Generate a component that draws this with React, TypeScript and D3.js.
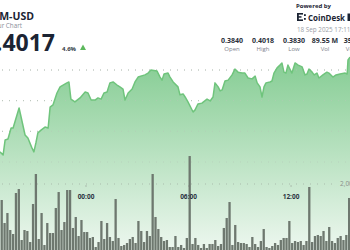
import React from "react";
import * as d3 from "d3";

// ---- data ----
const START = Date.UTC(2025, 8, 17, 18, 58);
const SPAN_MIN = 1229;
const BAR_START = Date.UTC(2025, 8, 17, 19, 0);
const BAR_STEP_MIN = 10;

const priceMinutes = [0, 11, 18, 28, 39, 46, 67, 88, 98, 112, 119, 126, 133, 144, 158, 169, 176, 186, 200, 211, 235, 242, 249, 263, 281, 299, 309, 320, 334, 344, 355, 365, 376, 386, 397,
  411, 421, 432, 439, 450, 464, 474, 485, 509, 520, 530, 551, 562, 569, 576, 590, 597, 608, 625, 632, 643, 650, 660, 678, 685, 695, 709, 727, 738, 748, 755, 766, 773, 780, 790, 801, 815,
  825, 836, 850, 860, 871, 885, 896, 903, 913, 920, 927, 934, 948, 955, 962, 973, 983, 990, 997, 1004, 1011, 1018, 1025, 1036, 1047, 1061, 1071, 1078, 1085, 1096, 1103, 1113, 1120, 1134, 1148, 1155, 1169, 1180, 1194, 1212, 1219, 1222, 1229];
const priceValues = [0.3733, 0.3723, 0.3772, 0.3775, 0.3811, 0.3811, 0.3876, 0.3788, 0.3778, 0.3746, 0.3733, 0.3762, 0.3795, 0.3804, 0.3814, 0.3811, 0.3879, 0.3886, 0.3925, 0.3945, 0.3958, 0.3961, 0.3905, 0.3896, 0.3909, 0.3928, 0.3925, 0.3902, 0.3902, 0.3909, 0.3905, 0.3925, 0.3928, 0.3958, 0.3961,
  0.3951, 0.3945, 0.3938, 0.3902, 0.3925, 0.3938, 0.3961, 0.3977, 0.3984, 0.399, 0.4, 0.3997, 0.3977, 0.3967, 0.3987, 0.399, 0.3977, 0.3961, 0.3945, 0.3919, 0.3922, 0.3912, 0.3896, 0.3863, 0.387, 0.3889, 0.3892, 0.3905, 0.3899, 0.3912, 0.3958, 0.3945, 0.3932, 0.3935, 0.3964, 0.3967, 0.3984,
  0.4003, 0.3993, 0.399, 0.399, 0.3974, 0.3971, 0.398, 0.3958, 0.3945, 0.3912, 0.3945, 0.3958, 0.3961, 0.3964, 0.399, 0.4007, 0.4016, 0.4023, 0.3993, 0.399, 0.4016, 0.4003, 0.399, 0.4023, 0.4016, 0.401, 0.3984, 0.3987, 0.4003, 0.3993, 0.3984, 0.399, 0.3974, 0.3984, 0.3993, 0.399, 0.3977, 0.3984, 0.3987, 0.399, 0.3987, 0.4033, 0.4042];

// volumes in thousands
const barVolumes = [1515, 818, 1121, 606, 485, 1727, 1848, 303, 606, 576, 242, 1394, 2303, 333, 1121, 152, 818, 515, 515, 1273, 1757, 606, 848, 1818, 1818, 667, 1000, 424, 909, 545, 545, 364, 394, 91, 242, 879, 333, 818, 394, 273, 1545, 364, 121, 152, 212, 333, 394, 212, 879, 576, 242, 576, 424, 2303, 1000, 636, 394, 273, 303, 91, 91, 424,
  91, 152, 61, 364, 2848, 182, 364, 152, 61, 182, 61, 182, 182, 303, 121, 182, 667, 970, 1454, 152, 758, 242, 212, 212, 182, 91, 394, 182, 91, 273, 636, 91, 61, 121, 212, 152, 303, 364, 364, 879, 212, 273, 242, 273, 152, 273, 1909, 242, 424, 455, 424, 576, 273, 697, 273, 212, 364, 424, 303, 455, 1576];

const priceGrid = [0.37, 0.38, 0.39, 0.4];
const volGrid = [2000];

const statValues = ["0.3840", "0.4018", "0.3830", "89.55 M", "35.21 M"];
const statLabels = ["Open", "High", "Low", "Vol", "Vol USD"];

const W = 350, H = 250;
const FONT = "'Open Sans', sans-serif";

export default function App() {
  const x = d3.scaleUtc().domain([START, START + SPAN_MIN * 60000]).range([0, W]);
  const y = d3.scaleLinear().domain([0.37, 0.4]).range([162, 70]);
  const yv = d3.scaleLinear().domain([0, 2000]).range([H, 184]);

  const pts = priceMinutes.map((m, i) => ({ t: START + m * 60000, v: priceValues[i] }));
  const area = d3.area<any>().x(d => x(d.t)).y0(H).y1(d => y(d.v))(pts) || "";
  const line = d3.line<any>().x(d => x(d.t)).y(d => y(d.v))(pts) || "";
  const bars = barVolumes.map((v, i) => ({ t: BAR_START + i * BAR_STEP_MIN * 60000, v }));
  const ticks = x.ticks(d3.utcHour.every(6) as any);
  const fmt = d3.utcFormat("%H:%M");
  const statX = [232, 263, 294, 325, 357];

  return (
    <svg width={W} height={H} style={{ position: "absolute", left: 0, top: 0, background: "#fff" }} fontFamily={FONT}>
      <defs>
        <linearGradient id="ag" gradientUnits="userSpaceOnUse" x1="0" y1="57" x2="0" y2={H}>
          <stop offset="0" stopColor="#84cc92" />
          <stop offset="1" stopColor="#edf7ef" />
        </linearGradient>
      </defs>
      <rect width={W} height={H} fill="#fff" />
      {priceGrid.map(g => (
        <line key={g} x1={2} x2={W} y1={y(g)} y2={y(g)} stroke="#bdbdbd" strokeDasharray="1 6" />
      ))}
      <path d={area} fill="url(#ag)" />
      {priceGrid.map(g => (
        <line key={"o" + g} x1={2} x2={W} y1={y(g)} y2={y(g)} stroke="#b5c9b8" strokeOpacity={0.6} strokeDasharray="1 6" />
      ))}
      {volGrid.map(g => (
        <g key={g}>
          <line x1={2} x2={336} y1={yv(g)} y2={yv(g)} stroke="#a9bcac" strokeDasharray="1 6" />
          <text x={340} y={yv(g) + 2.3} fontSize={6.5} fill="#8a8f8a">{d3.format(",")(g * 1000)}</text>
        </g>
      ))}
      <path d={line} fill="none" stroke="#6fc47c" strokeWidth={1.5} strokeLinejoin="round" />
      {bars.map((b, i) => (
        <rect key={i} x={x(b.t)} y={yv(b.v)} width={2.3} height={H - yv(b.v)} fill="#6e786f" />
      ))}
      {ticks.map(t => (
        <g key={+t}>
          <rect x={x(t) - 0.5} y={185.5} width={1} height={1} fill="#8a8f8a" />
          <text x={x(t)} y={198.5} textAnchor="middle" fontSize={6.5} fontWeight={700} fill="#2b3342">{fmt(t)}</text>
        </g>
      ))}
      {/* header left */}
      <text x={34} y={19.5} textAnchor="end" fontSize={10.5} fontWeight={700} fill="#1b2433">XLM-USD</text>
      <text x={22} y={27.5} textAnchor="end" fontSize={6.3} fill="#8a8f99">24 Hour Chart</text>
      <text x={55} y={51} textAnchor="end" fontSize={23} fontWeight={700} fill="#1b2433">0.4017</text>
      <text x={62} y={51} fontSize={6} fontWeight={700} fill="#333a45">4.6%</text>
      <path d="M80,50 L86,50 L83,44.5 Z" fill="#5cb85c" />
      {/* header right */}
      <text x={296} y={8} fontSize={6} fontWeight={700} fill="#1b2433">Powered by</text>
      <g fill="#1b2433">
        <rect x={297} y={13} width={1.8} height={8} />
        <rect x={297} y={13} width={6} height={1.6} />
        <rect x={297} y={19.4} width={6} height={1.6} />
        <rect x={297} y={16.2} width={4.5} height={1.5} />
        <rect x={304} y={14.2} width={1.8} height={1.8} />
        <rect x={304} y={18} width={1.8} height={1.8} />
        <rect x={347.5} y={13.5} width={2.5} height={7.5} />
      </g>
      <text x={308} y={21} fontSize={9.6} fontWeight={700} fill="#1b2433" textLength={37} lengthAdjust="spacingAndGlyphs">CoinDesk</text>
      <text x={297} y={32} fontSize={6.3} fill="#9a9ea6">18 Sep 2025 17:11</text>
      {statValues.map((s, i) => (
        <g key={i}>
          <text x={statX[i]} y={42.5} textAnchor="middle" fontSize={7} fontWeight={700} fill="#2a2f3a">{s}</text>
          <text x={statX[i]} y={51} textAnchor="middle" fontSize={6} fill="#7d828c">{statLabels[i]}</text>
        </g>
      ))}
    </svg>
  );
}
